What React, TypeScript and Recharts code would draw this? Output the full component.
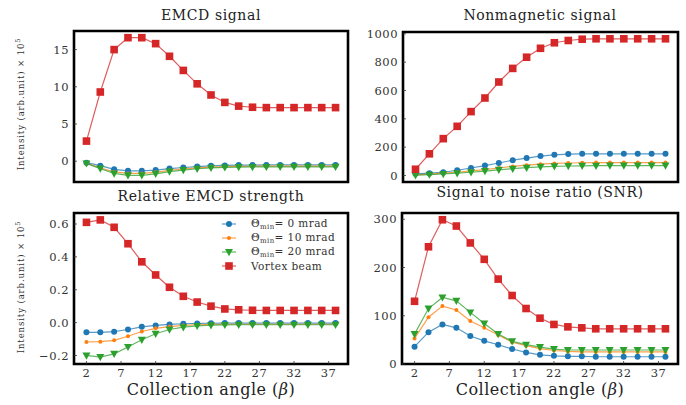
import React from 'react';
import { LineChart, Line, XAxis, YAxis, Legend, ReferenceArea } from 'recharts';

const angles = [2, 4, 6, 8, 10, 12, 14, 16, 18, 20, 22, 24, 26, 28, 30, 32, 34, 36, 38];
const xTicks = [2, 7, 12, 17, 22, 27, 32, 37];
const xDomain: [number, number] = [0.2, 39.8];

// EMCD signal
const emcdT0 = [-0.2, -0.6, -1.1, -1.3, -1.3, -1.2, -1.0, -0.85, -0.72, -0.63, -0.57, -0.53, -0.52, -0.51, -0.5, -0.5, -0.5, -0.5, -0.5];
const emcdT10 = [-0.3, -0.9, -1.45, -1.65, -1.65, -1.5, -1.25, -1.05, -0.9, -0.8, -0.74, -0.7, -0.68, -0.67, -0.66, -0.66, -0.66, -0.66, -0.66];
const emcdT20 = [-0.3, -1.0, -1.65, -1.9, -1.9, -1.7, -1.4, -1.2, -1.02, -0.9, -0.84, -0.8, -0.78, -0.77, -0.76, -0.76, -0.76, -0.76, -0.76];
const emcdVortex = [2.7, 9.3, 15.0, 16.6, 16.6, 15.8, 14.1, 12.2, 10.4, 8.9, 7.9, 7.4, 7.25, 7.2, 7.2, 7.2, 7.2, 7.2, 7.2];

// Nonmagnetic signal
const nonmagT0 = [12, 16, 23, 37, 53, 70, 88, 108, 123, 137, 146, 151, 153, 153, 153, 153, 153, 153, 153];
const nonmagT10 = [5, 10, 16, 23, 32, 42, 53, 64, 73, 80, 85, 88, 90, 91, 91, 91, 91, 91, 91];
const nonmagT20 = [2, 6, 11, 16, 23, 31, 40, 48, 55, 61, 65, 67, 68, 69, 70, 70, 70, 70, 70];
const nonmagVortex = [44, 153, 260, 347, 451, 547, 660, 756, 835, 898, 937, 953, 962, 965, 965, 965, 965, 965, 965];

// Relative EMCD strength
const relT0 = [-0.059, -0.059, -0.055, -0.042, -0.026, -0.017, -0.011, -0.007, -0.005, -0.004, -0.003, -0.003, -0.003, -0.003, -0.003, -0.003, -0.003, -0.003, -0.003];
const relT10 = [-0.118, -0.116, -0.108, -0.083, -0.054, -0.035, -0.024, -0.017, -0.013, -0.011, -0.01, -0.01, -0.01, -0.01, -0.01, -0.01, -0.01, -0.01, -0.01];
const relT20 = [-0.2, -0.21, -0.19, -0.148, -0.104, -0.068, -0.042, -0.028, -0.02, -0.016, -0.014, -0.013, -0.013, -0.013, -0.013, -0.013, -0.013, -0.013, -0.013];
const relVortex = [0.61, 0.625, 0.58, 0.48, 0.37, 0.29, 0.215, 0.16, 0.125, 0.1, 0.083, 0.078, 0.075, 0.074, 0.074, 0.074, 0.074, 0.074, 0.074];

// Signal to noise ratio
const snrT0 = [36, 66, 82, 75, 58, 48, 40, 31, 24, 19, 17, 16, 16, 15, 15, 15, 15, 15, 15];
const snrT10 = [53, 97, 120, 112, 89, 75, 60, 45, 38, 32, 28, 26, 25, 25, 25, 25, 25, 25, 25];
const snrT20 = [62, 115, 138, 131, 107, 84, 62, 47, 40, 35, 31, 29, 29, 29, 29, 29, 29, 29, 29];
const snrVortex = [130, 243, 299, 286, 251, 217, 176, 142, 115, 95, 82, 77, 75, 73, 73, 73, 73, 73, 73];

const seriesNames = ['Θmin= 0 mrad', 'Θmin= 10 mrad', 'Θmin= 20 mrad', 'Vortex beam'];

const BLUE = '#1f77b4';
const ORANGE = '#ff7f0e';
const GREEN = '#2ca02c';
const RED = '#d62728';
const FONT = '"DejaVu Serif", serif';

const build = (a: number[], b: number[], c: number[], d: number[]) =>
  angles.map((x, i) => ({ angle: x, t0: a[i], t10: b[i], t20: c[i], vortex: d[i] }));

const circleDot = (r: number, color: string) => (p: any) =>
  p.cx == null || p.cy == null ? <g key={`e${p.index}`} /> : (
    <circle key={`c${p.index}`} cx={p.cx} cy={p.cy} r={r} fill={color} />
  );
const triDot = (color: string) => (p: any) =>
  p.cx == null || p.cy == null ? <g key={`e${p.index}`} /> : (
    <polygon key={`t${p.index}`} points={`${p.cx - 4},${p.cy - 3} ${p.cx + 4},${p.cy - 3} ${p.cx},${p.cy + 4.2}`} fill={color} />
  );
const squareDot = (color: string) => (p: any) =>
  p.cx == null || p.cy == null ? <g key={`e${p.index}`} /> : (
    <rect key={`s${p.index}`} x={p.cx - 3.8} y={p.cy - 3.8} width={7.6} height={7.6} fill={color} />
  );

const LegendMarker = ({ kind, color }: { kind: string; color: string }) => (
  <svg width={30} height={12} style={{ display: 'block' }}>
    <line x1={4} y1={6} x2={18} y2={6} stroke={color} strokeWidth={1.2} strokeOpacity={0.75} />
    {kind === 'c' && <circle cx={11} cy={6} r={3} fill={color} />}
    {kind === 'o' && <circle cx={11} cy={6} r={2} fill={color} />}
    {kind === 't' && <polygon points="7,3 15,3 11,10.2" fill={color} />}
    {kind === 's' && <rect x={7.2} y={2.2} width={7.6} height={7.6} fill={color} />}
  </svg>
);

const legendItems = [
  { kind: 'c', color: BLUE, name: seriesNames[0] },
  { kind: 'o', color: ORANGE, name: seriesNames[1] },
  { kind: 't', color: GREEN, name: seriesNames[2] },
  { kind: 's', color: RED, name: seriesNames[3] },
];

const LegendContent = () => (
  <div style={{ fontFamily: FONT, fontSize: 10.5, color: '#333', letterSpacing: 0.4 }}>
    {legendItems.map((it) => {
      const isTheta = it.name.startsWith('Θmin');
      return (
        <div key={it.name} style={{ display: 'flex', alignItems: 'center', height: 13.9 }}>
          <LegendMarker kind={it.kind} color={it.color} />
          <span style={{ marginLeft: 3, whiteSpace: 'nowrap' }}>
            {isTheta ? (
              <>
                Θ<span style={{ fontSize: 7, verticalAlign: -2 }}>min</span>
                {it.name.slice(4)}
              </>
            ) : (
              it.name
            )}
          </span>
        </div>
      );
    })}
  </div>
);

type PanelProps = {
  left: number;
  top: number;
  width: number;
  height: number;
  yWidth: number;
  margin: { top: number; right: number; bottom: number; left: number };
  data: any[];
  domain: [number, number];
  yTicks: number[];
  fmt?: (v: number) => string;
  showX: boolean;
  legend?: boolean;
};

const tickStyle = { fontSize: 11.5, fontFamily: FONT, fill: '#333', letterSpacing: 0.5 };

const Panel = (p: PanelProps) => (
  <div style={{ position: 'absolute', left: p.left, top: p.top }}>
    <LineChart width={p.width} height={p.height} data={p.data} margin={p.margin}>
      <XAxis
        dataKey="angle"
        type="number"
        domain={xDomain}
        ticks={xTicks}
        allowDataOverflow
        height={p.showX ? 20 : 0}
        tick={p.showX ? tickStyle : false}
        tickLine={p.showX ? { stroke: '#333', strokeWidth: 0.8 } : false}
        tickSize={-3}
        tickMargin={8}
        axisLine={false}
        interval={0}
      />
      <YAxis
        type="number"
        domain={p.domain}
        ticks={p.yTicks}
        allowDataOverflow
        width={p.yWidth}
        tick={tickStyle}
        tickFormatter={p.fmt}
        tickLine={{ stroke: '#333', strokeWidth: 0.8 }}
        tickSize={-3}
        tickMargin={8}
        axisLine={false}
        interval={0}
      />
      {p.legend && (
        <Legend
          layout="horizontal"
          align="center"
          verticalAlign="middle"
          content={<LegendContent />}
          wrapperStyle={{ position: 'absolute', top: 22, left: 218, width: 132, height: 56 }}
        />
      )}
      <Line dataKey="t0" name={seriesNames[0]} type="linear" stroke={BLUE} strokeWidth={1.2} strokeOpacity={0.75} dot={circleDot(3, BLUE)} activeDot={false} isAnimationActive={false} />
      <Line dataKey="t10" name={seriesNames[1]} type="linear" stroke={ORANGE} strokeWidth={1.2} strokeOpacity={0.75} dot={circleDot(2, ORANGE)} activeDot={false} isAnimationActive={false} />
      <Line dataKey="t20" name={seriesNames[2]} type="linear" stroke={GREEN} strokeWidth={1.2} strokeOpacity={0.75} dot={triDot(GREEN)} activeDot={false} isAnimationActive={false} />
      <Line dataKey="vortex" name={seriesNames[3]} type="linear" stroke={RED} strokeWidth={1.2} strokeOpacity={0.75} dot={squareDot(RED)} activeDot={false} isAnimationActive={false} />
      <ReferenceArea
        x1={xDomain[0]}
        x2={xDomain[1]}
        y1={p.domain[0]}
        y2={p.domain[1]}
        ifOverflow="visible"
        fill="none"
        fillOpacity={0}
        stroke="#000"
        strokeWidth={2.6}
        strokeOpacity={1}
      />
    </LineChart>
  </div>
);

const fmtRel = (v: number) => (v < 0 ? '−' + Math.abs(v).toFixed(1) : v.toFixed(1));

const YLabel = ({ x, y }: { x: number; y: number }) => (
  <text
    x={x}
    y={y}
    transform={`rotate(-90 ${x} ${y})`}
    textAnchor="middle"
    dominantBaseline="middle"
    fontFamily={FONT}
    fontSize={8.5}
    letterSpacing={0.9}
    fill="#333"
  >
    Intensity (arb.unit) × 10
    <tspan dy={-3.5} fontSize={6.5}>5</tspan>
  </text>
);

const Title = ({ x, y, children }: { x: number; y: number; children: React.ReactNode }) => (
  <text x={x} y={y} textAnchor="middle" dominantBaseline="middle" fontFamily={FONT} fontSize={14} letterSpacing={0.6} fill="#222">
    {children}
  </text>
);

const XLabel = ({ x, y }: { x: number; y: number }) => (
  <text x={x} y={y} textAnchor="middle" dominantBaseline="middle" fontFamily={FONT} fontSize={16} letterSpacing={0.5} fill="#222">
    Collection angle (<tspan fontStyle="italic">β</tspan>)
  </text>
);

export default function App() {
  return (
    <div style={{ position: 'absolute', left: 0, top: 0, width: 686, height: 405, background: '#fff', overflow: 'hidden' }}>
      <Panel
        left={0} top={0} width={350} height={200} yWidth={74}
        margin={{ top: 31, right: 2, bottom: 18, left: 0 }}
        data={build(emcdT0, emcdT10, emcdT20, emcdVortex)}
        domain={[-2.8, 17.5]} yTicks={[0, 5, 10, 15]} showX={false}
      />
      <Panel
        left={350} top={0} width={336} height={200} yWidth={53}
        margin={{ top: 32, right: 8, bottom: 18, left: 0 }}
        data={build(nonmagT0, nonmagT10, nonmagT20, nonmagVortex)}
        domain={[-46, 1013]} yTicks={[0, 200, 400, 600, 800, 1000]} showX={false}
      />
      <Panel
        left={0} top={195} width={350} height={210} yWidth={74}
        margin={{ top: 18, right: 2, bottom: 21, left: 0 }}
        data={build(relT0, relT10, relT20, relVortex)}
        domain={[-0.252, 0.667]} yTicks={[-0.2, 0, 0.2, 0.4, 0.6]} fmt={fmtRel} showX={true} legend
      />
      <Panel
        left={350} top={195} width={336} height={210} yWidth={52}
        margin={{ top: 18, right: 8, bottom: 21, left: 0 }}
        data={build(snrT0, snrT10, snrT20, snrVortex)}
        domain={[0, 313]} yTicks={[0, 100, 200, 300]} showX={true}
      />
      <svg width={686} height={405} style={{ position: 'absolute', left: 0, top: 0, pointerEvents: 'none' }}>
        <Title x={211} y={16}>EMCD signal</Title>
        <Title x={540} y={16}>Nonmagnetic signal</Title>
        <Title x={211} y={197}>Relative EMCD strength</Title>
        <Title x={540} y={193}>Signal to noise ratio (SNR)</Title>
        <YLabel x={21} y={104} />
        <YLabel x={21} y={287} />
        <XLabel x={211} y={390} />
        <XLabel x={540} y={390} />
      </svg>
    </div>
  );
}
